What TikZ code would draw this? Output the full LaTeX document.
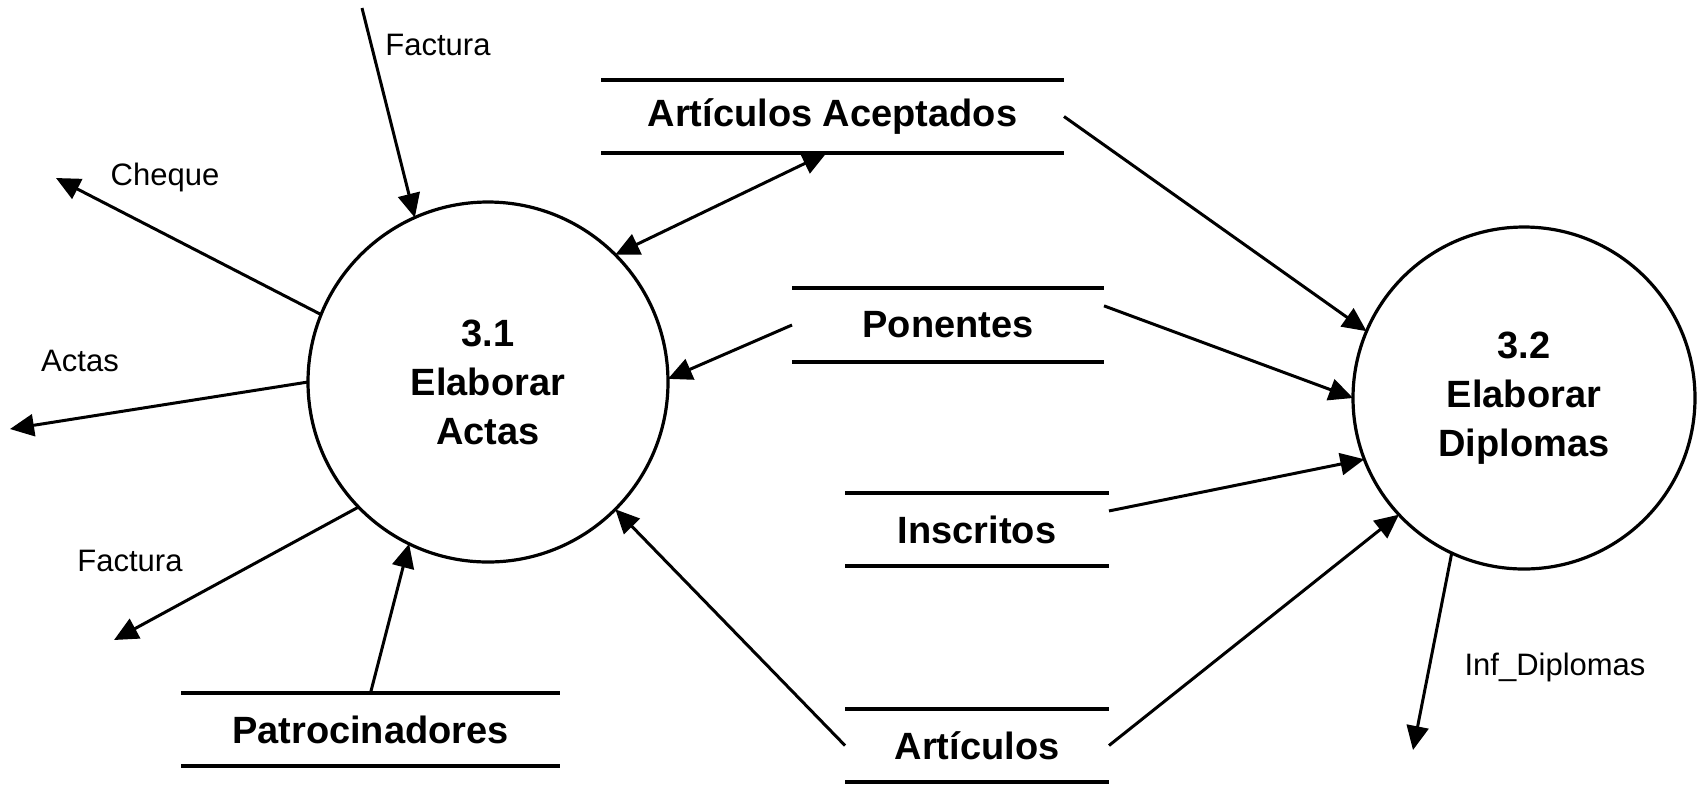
\documentclass[tikz,border=0pt]{standalone}
\usepackage{fontspec}
\setmainfont{Liberation Sans}
\usetikzlibrary{arrows.meta}
\tikzset{
  proc/.style={circle, draw, line width=1.6pt, inner sep=0pt, outer sep=0pt, align=center,
    font=\fontsize{19}{24.5}\selectfont\bfseries},
  store/.style={rectangle, inner sep=0pt, outer sep=0pt,
    font=\fontsize{19}{23}\selectfont\bfseries},
  storeline/.style={line width=1.8pt},
  flow/.style={line width=1.5pt, -{Triangle[length=12pt,width=11pt]}},
  biflow/.style={line width=1.5pt, {Triangle[length=12pt,width=11pt]}-{Triangle[length=12pt,width=11pt]}},
  lbl/.style={font=\fontsize{15.5}{18}\selectfont, inner sep=0pt},
}
\begin{document}
\begin{tikzpicture}[x=0.5pt,y=-0.5pt]
\useasboundingbox (0,0) rectangle (1697,784);
% processes
\node[proc, minimum size=180pt] (p31) at (488,382) {3.1\\Elaborar\\Actas};
\node[proc, minimum size=171pt] (p32) at (1524,398) {3.2\\Elaborar\\Diplomas};
% stores
\node[store, minimum width=231.5pt, minimum height=36.5pt] (sAA) at (832.5,116.5) {Artículos Aceptados};
\node[store, minimum width=156pt, minimum height=37pt] (sPon) at (948,325) {Ponentes};
\node[store, minimum width=132pt, minimum height=36.5pt] (sIns) at (977,529.5) {Inscritos};
\node[store, minimum width=132pt, minimum height=36.5pt] (sArt) at (977,745.5) {Artículos};
\node[store, minimum width=189.5pt, minimum height=36.5pt] (sPat) at (370.5,729.5) {Patrocinadores};
\foreach \s in {sAA,sPon,sIns,sArt,sPat}
  \draw[storeline] (\s.north west) -- (\s.north east) (\s.south west) -- (\s.south east);
% free ends
\coordinate (fin) at (362,8);
\coordinate (cheq) at (56,178);
\coordinate (actas) at (10,429);
\coordinate (fout) at (114,640);
\coordinate (infd) at (1413,750);
% labels
\node[lbl, anchor=west] (lfin) at (385,45) {Factura};
\node[lbl] (lcheq) at (165,177) {Cheque};
\node[lbl] (lactas) at (80,361) {Actas};
\node[lbl] (lfout) at (130,561) {Factura};
\node[lbl] (linfd) at (1555,667) {Inf\_Diplomas};
% flows around 3.1
\draw[flow] (fin) -- (p31.114);
\draw[flow] (p31.158.4) -- (cheq);
\draw[flow] (p31.180) -- (actas);
\draw[flow] (p31.224) -- (fout);
\draw[flow] (sPat.north) -- (p31.244.3);
\draw[flow] (sArt.west) -- (p31.315);
\draw[biflow] (p31.45) -- ([xshift=-3pt]sAA.south);
\draw[flow] (sPon.west) -- (p31.1);
% flows around 3.2
\draw[flow] (sAA.east) -- (p32.157.7);
\draw[flow] (sPon.7) -- (p32.180);
\draw[flow] (sIns.8) -- (p32.201.3);
\draw[flow] (sArt.east) -- (p32.223.6);
\draw[flow] (p32.245.4) -- (infd);
\end{tikzpicture}
\end{document}
